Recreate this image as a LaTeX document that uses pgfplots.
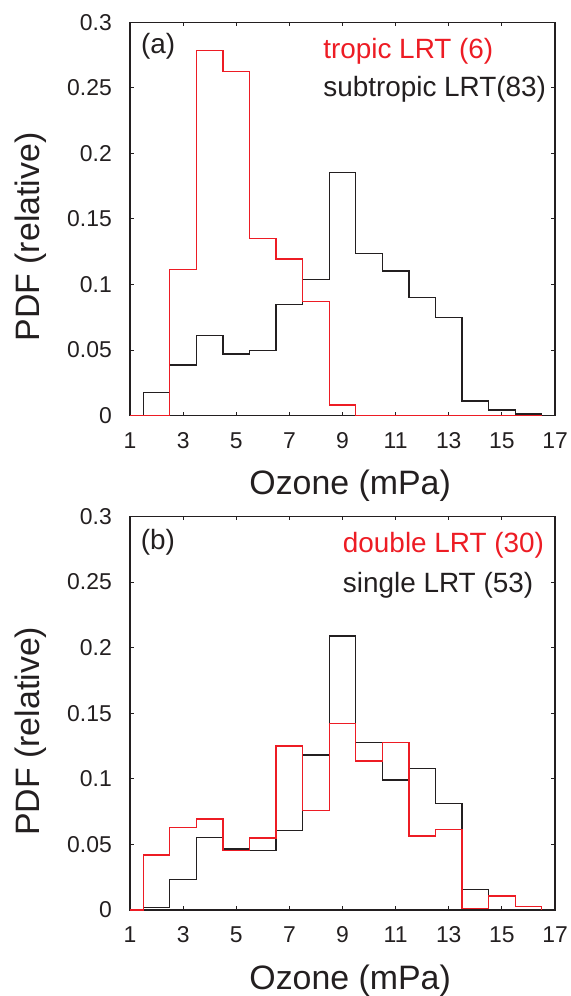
\documentclass[border=0pt]{standalone}
\usepackage{fontspec}
\setmainfont{Liberation Sans}
\usepackage{pgfplots}
\pgfplotsset{compat=1.18}
\usepackage{pgfplotstable}
\definecolor{myred}{RGB}{237,28,36}
\definecolor{myblack}{RGB}{35,31,32}

\pgfplotstableread{
x y
1 0
1.5 0.0175
2.5 0.0386
3.5 0.0614
4.5 0.0470
5.5 0.0495
6.5 0.0848
7.5 0.1038
8.5 0.1855
9.5 0.1234
10.5 0.1104
11.5 0.0901
12.5 0.0749
13.5 0.0112
14.5 0.0043
15.5 0.0013
16.5 0
17 0
}\subtropic
\pgfplotstableread{
x y
1 0
2.5 0.1114
3.5 0.2782
4.5 0.2624
5.5 0.1353
6.5 0.1195
7.5 0.0873
8.5 0.0081
9.5 0
16.5 0
}\tropic
\pgfplotstableread{
x y
1 0
1.5 0.0020
2.5 0.0234
3.5 0.0552
4.5 0.0465
5.5 0.0453
6.5 0.0608
7.5 0.1182
8.5 0.2090
9.5 0.1279
10.5 0.0992
11.5 0.1078
12.5 0.0811
13.5 0.0158
14.5 0
16.5 0
}\single
\pgfplotstableread{
x y
1 0
1.5 0.0420
2.5 0.0628
3.5 0.0694
4.5 0.0453
5.5 0.0549
6.5 0.1251
7.5 0.0758
8.5 0.1424
9.5 0.1137
10.5 0.1279
11.5 0.0564
12.5 0.0615
13.5 0.0013
14.5 0.0107
15.5 0.0025
16.5 0
}\double

\pgfplotsset{
  panel/.style={
    anchor=south west,
    scale only axis,
    width=425bp, height=393.5bp,
    xmin=1, xmax=17, ymin=0, ymax=0.3,
    xtick={1,3,5,7,9,11,13,15,17},
    xticklabels={1,3,5,7,9,11,13,15,17},
    ytick={0,0.05,0.1,0.15,0.2,0.25,0.3},
    yticklabels={0,0.05,0.1,0.15,0.2,0.25,0.3},
    /pgf/number format/assume math mode=true,
    tick align=inside,
    major tick length=4bp,
    axis line style={myblack, line width=1.3bp},
    every tick/.style={myblack, line width=1.1bp},
    tick label style={font=\fontsize{23}{27}\selectfont, text=myblack, inner sep=0pt},
    xticklabel style={anchor=north, yshift=-16.7bp},
    yticklabel style={anchor=east, xshift=-18bp},
    xlabel={Ozone (mPa)},
    ylabel={PDF (relative)},
    label style={font=\fontsize{34}{40}\selectfont, text=myblack, inner sep=0pt},
    xlabel style={at={(axis description cs:0.518,-0.2008)}, anchor=base},
    ylabel style={at={(axis description cs:-0.2118,0.4542)}, anchor=base, rotate=0},
    clip=false,
  },
  hist/.style={const plot mark left, no marks, line width=1.3bp},
}

\begin{document}
\begin{tikzpicture}
\useasboundingbox (0,0) rectangle (571bp,996bp);
\begin{axis}[panel, at={(130bp,580.3bp)}]
\addplot[hist, myblack] table[x=x,y=y] {\subtropic};
\addplot[hist, myred] table[x=x,y=y] {\tropic};
\node[anchor=base west, font=\fontsize{28}{32}\selectfont, text=myblack, inner sep=0pt] at (axis cs:1.41,0.276) {(a)};
\node[anchor=base west, font=\fontsize{28}{32}\selectfont, text=myred, inner sep=0pt] at (axis cs:8.27,0.272) {tropic LRT (6)};
\node[anchor=base west, font=\fontsize{28}{32}\selectfont, text=myblack, inner sep=0pt] at (axis cs:8.27,0.243) {subtropic LRT(83)};
\end{axis}
\begin{axis}[panel, at={(130bp,86bp)}]
\addplot[hist, myblack] table[x=x,y=y] {\single};
\addplot[hist, myred] table[x=x,y=y] {\double};
\node[anchor=base west, font=\fontsize{28}{32}\selectfont, text=myblack, inner sep=0pt] at (axis cs:1.40,0.2746) {(b)};
\node[anchor=base west, font=\fontsize{28}{32}\selectfont, text=myred, inner sep=0pt] at (axis cs:9.01,0.2726) {double LRT (30)};
\node[anchor=base west, font=\fontsize{28}{32}\selectfont, text=myblack, inner sep=0pt] at (axis cs:9.01,0.2423) {single LRT (53)};
\end{axis}
\end{tikzpicture}
\end{document}
